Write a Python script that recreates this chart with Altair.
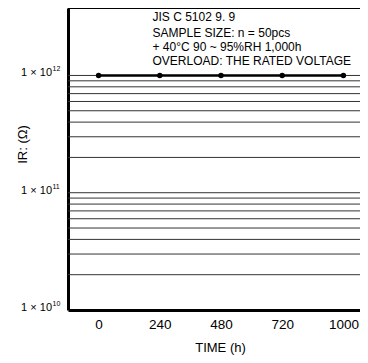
import altair as alt
import pandas as pd

# data
times = ["0", "240", "480", "720", "1000"]
ir_values = [1e12, 1e12, 1e12, 1e12, 1e12]
grid_values = [2e10, 3e10, 4e10, 5e10, 6e10, 7e10, 8e10, 9e10,
               1e11, 2e11, 3e11, 4e11, 5e11, 6e11, 7e11, 8e11, 9e11, 1e12]
label_values = [1e10, 1e11, 1e12]
label_base = ["1 × 10", "1 × 10", "1 × 10"]
label_exp = ["10", "11", "12"]
notes = ["JIS C 5102 9. 9", "SAMPLE SIZE: n = 50pcs",
         "+ 40°C 90 ~ 95%RH  1,000h", "OVERLOAD: THE RATED VOLTAGE"]
note_y = [12.5, 29, 42.5, 56.5]

W, H = 292, 302
FONT = "Liberation Sans"

df = pd.DataFrame({"time": times, "ir": ir_values})
gdf = pd.DataFrame({"g": grid_values})
ldf = pd.DataFrame({"v": label_values, "base": label_base, "exp": label_exp})
ndf = pd.DataFrame({"t": notes, "py": note_y})

yscale = alt.Scale(type="log", domain=[1e10, 3.76e12], nice=False)
xscale = alt.Scale(domain=times, range=[0, 306], padding=0.5)

grid = alt.Chart(gdf).mark_rule(color="#333", strokeWidth=1).encode(
    y=alt.Y("g:Q", scale=yscale,
            axis=alt.Axis(title="IR: (Ω)", labels=False, ticks=False, grid=False,
                          domainColor="black", domainWidth=3,
                          titleFont=FONT, titleFontSize=13, titleFontWeight="normal",
                          titleColor="black", titleAngle=-90, titleX=-45.5, titleY=136,
                          titleAlign="center", titleBaseline="middle")),
    x=alt.value(0), x2=alt.value(W),
)

top = alt.Chart(gdf).mark_rule(color="black", strokeWidth=2).encode(
    y=alt.value(0), x=alt.value(0), x2=alt.value(W)
)

line = alt.Chart(df).mark_line(color="black", strokeWidth=2.5).encode(
    x=alt.X("time:N", scale=xscale, sort=times,
            axis=alt.Axis(title="TIME  (h)", labelAngle=0, ticks=False, grid=False,
                          domainColor="black", domainWidth=3,
                          labelFont=FONT, labelFontSize=13.5, labelColor="black",
                          labelPadding=7,
                          titleFont=FONT, titleFontSize=13, titleFontWeight="normal",
                          titleColor="black", titlePadding=11, titleX=152)),
    y=alt.Y("ir:Q", scale=yscale),
)
points = alt.Chart(df).mark_point(filled=True, color="black", size=30, opacity=1).encode(
    x=alt.X("time:N", scale=xscale, sort=times),
    y=alt.Y("ir:Q", scale=yscale),
)

lab_base = alt.Chart(ldf).mark_text(align="right", baseline="middle", font=FONT,
                                    fontSize=11, color="black", dy=-2).encode(
    y=alt.Y("v:Q", scale=yscale), x=alt.value(-16), text="base:N"
)
lab_exp = alt.Chart(ldf).mark_text(align="left", baseline="middle", font=FONT,
                                   fontSize=7, color="black", dy=-6).encode(
    y=alt.Y("v:Q", scale=yscale), x=alt.value(-15.5), text="exp:N"
)

note = alt.Chart(ndf).mark_text(align="left", baseline="alphabetic", font=FONT,
                                fontSize=12, color="black").encode(
    x=alt.value(84.5), y=alt.Y("py:Q", scale=None), text="t:N"
)

chart = alt.layer(grid, top, line, points, lab_base, lab_exp, note).properties(
    width=W, height=H,
    autosize=alt.AutoSizeParams(type="none"),
    padding={"left": 60, "top": 0, "right": 0, "bottom": 46},
).configure_view(stroke=None).configure(background="white")

chart.save("out.html", embed_options={"renderer": "svg", "actions": False})
